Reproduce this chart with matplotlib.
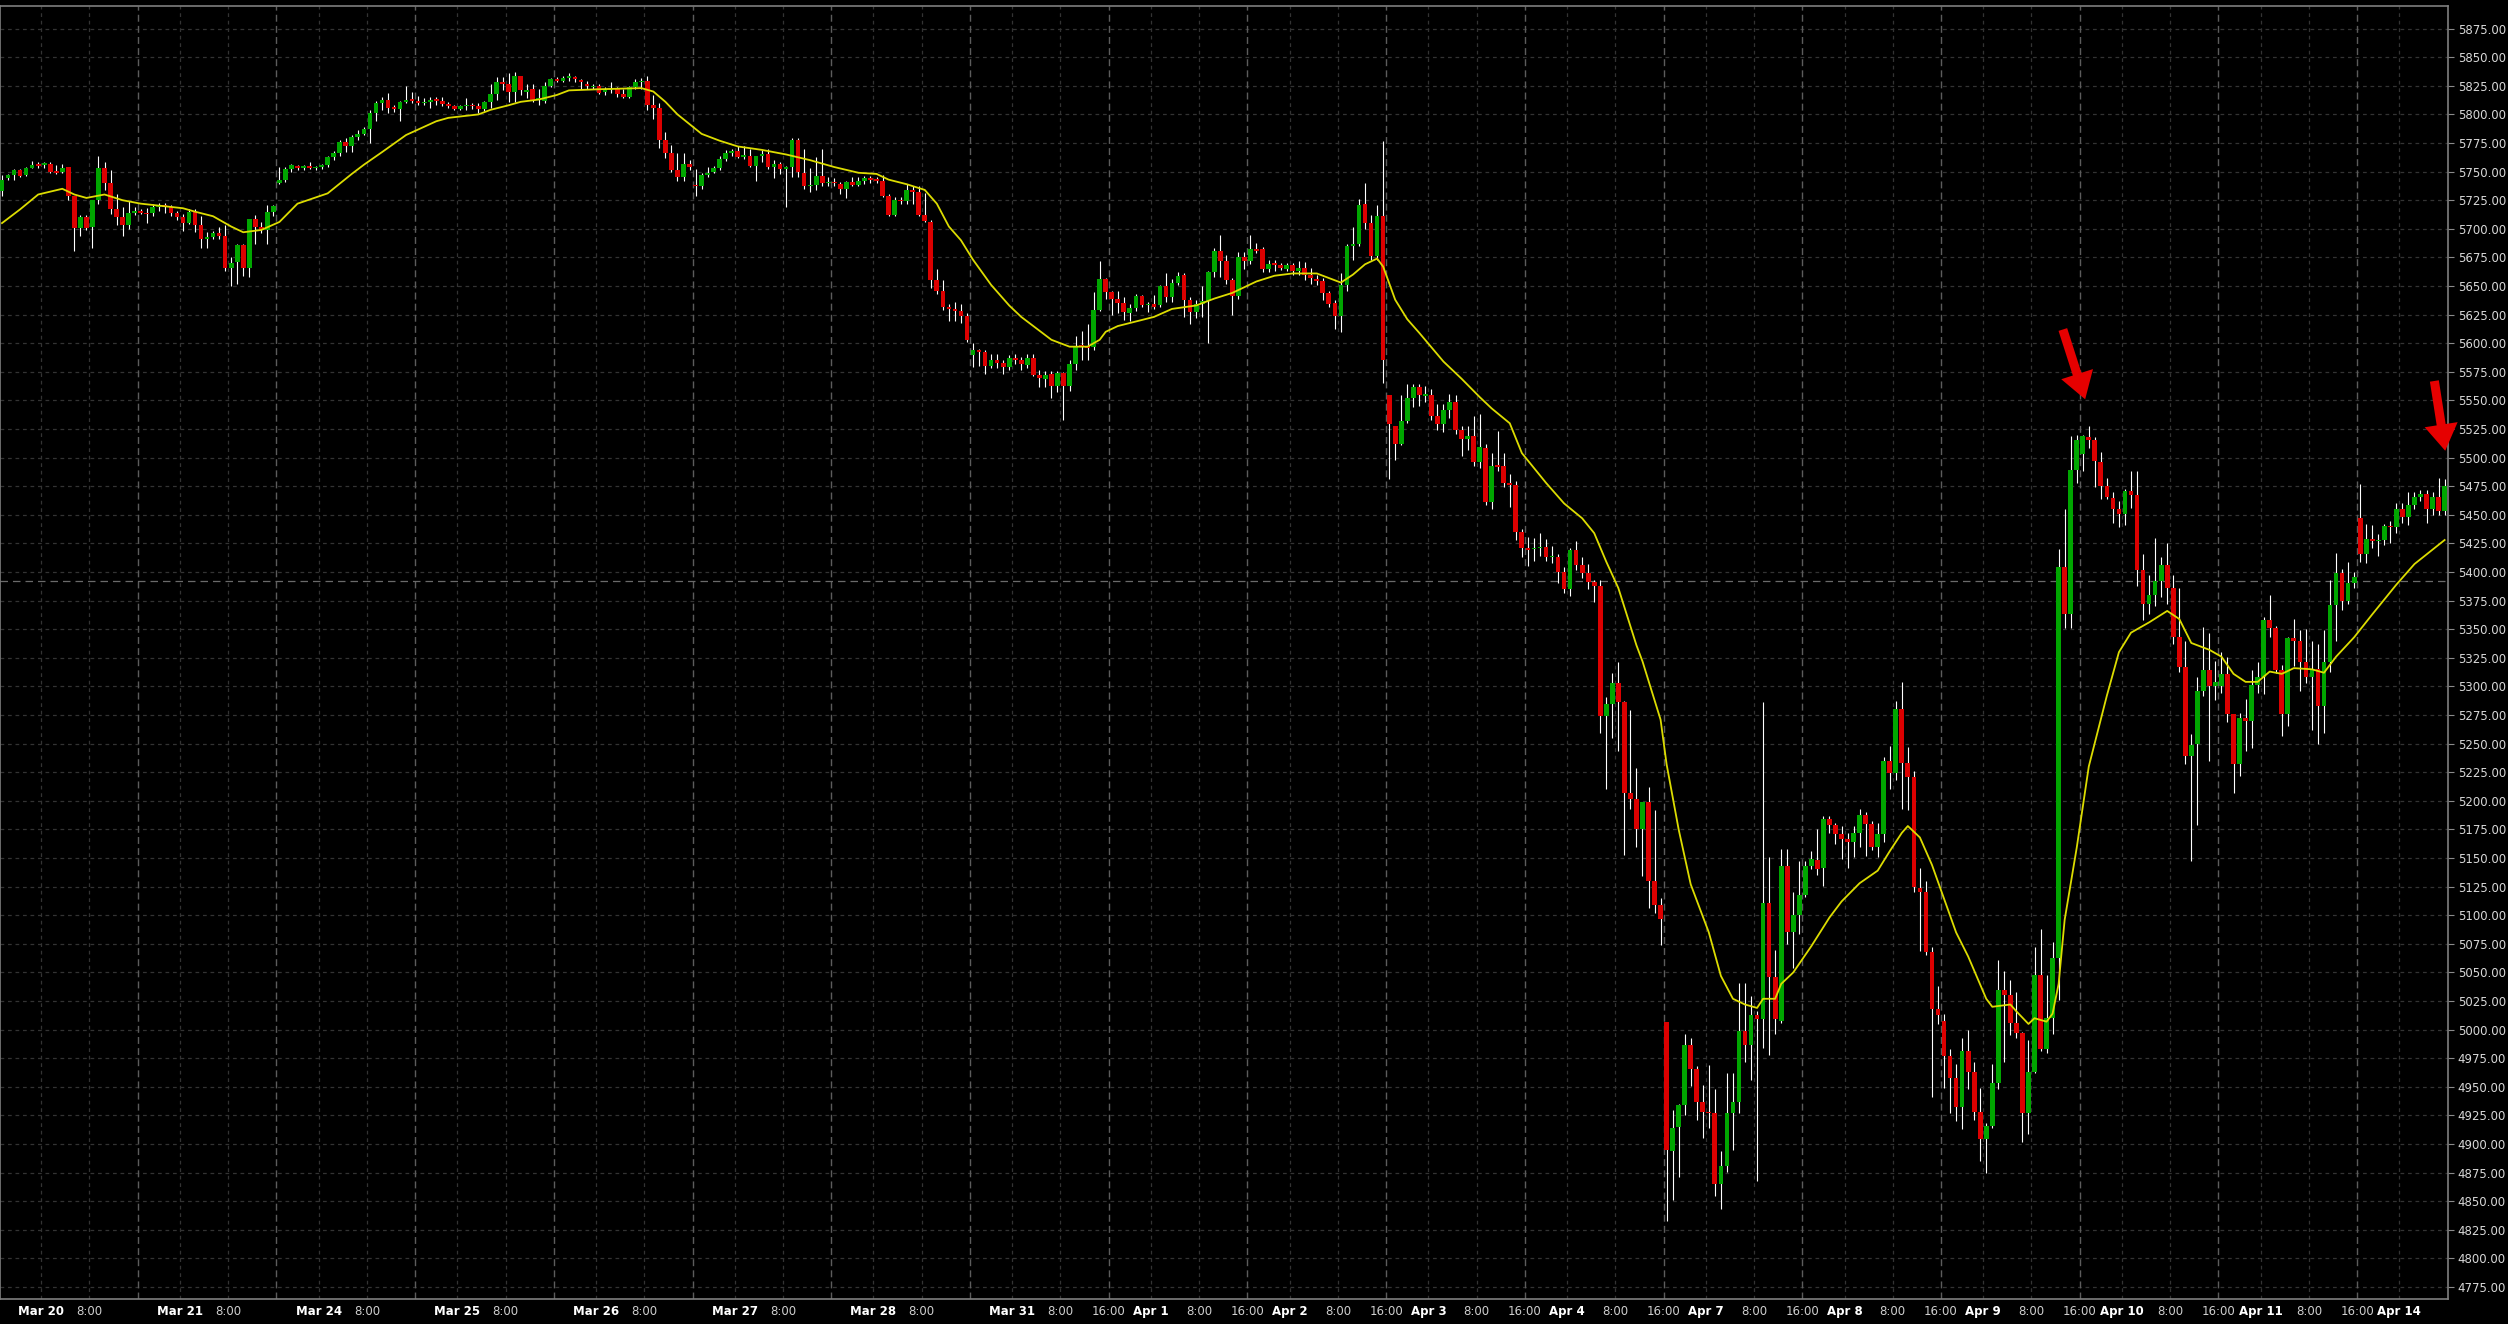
import matplotlib
matplotlib.use('Agg')
import matplotlib.pyplot as plt
import numpy as np

# hourly bars, from the late Mar 19 session to Apr 14 morning
opens = [
    5733, 5744, 5747, 5751, 5747, 5753, 5757, 5756, 5757, 5750,
    5750, 5754, 5729, 5701, 5710, 5702, 5725, 5753, 5740, 5717,
    5710, 5703, 5714, 5715, 5714, 5714, 5719, 5721, 5719, 5714,
    5710, 5705, 5715, 5703, 5691, 5693, 5696, 5694, 5666, 5671,
    5686, 5666, 5709, 5702, 5699, 5715, 5740, 5743, 5752, 5755,
    5753, 5755, 5753, 5754, 5756, 5763, 5766, 5776, 5772, 5780,
    5783, 5787, 5801, 5810, 5813, 5806, 5805, 5811, 5813, 5812,
    5810, 5811, 5813, 5812, 5809, 5807, 5805, 5807, 5808, 5807,
    5805, 5811, 5818, 5828, 5827, 5820, 5834, 5820, 5822, 5813,
    5812, 5825, 5831, 5829, 5832, 5833, 5830, 5827, 5824, 5825,
    5820, 5821, 5823, 5818, 5815, 5824, 5828, 5829, 5808, 5806,
    5778, 5766, 5751, 5745, 5757, 5738, 5737, 5747, 5750, 5753,
    5761, 5766, 5768, 5763, 5764, 5755, 5764, 5765, 5754, 5757,
    5752, 5754, 5778, 5749, 5737, 5738, 5746, 5740, 5741, 5739,
    5735, 5741, 5738, 5742, 5744, 5743, 5742, 5729, 5712, 5725,
    5724, 5734, 5732, 5712, 5706, 5655, 5646, 5632, 5630, 5628,
    5624, 5590, 5594, 5592, 5580, 5585, 5583, 5579, 5587, 5585,
    5581, 5587, 5572, 5569, 5573, 5563, 5574, 5563, 5582, 5598,
    5598, 5597, 5629, 5656, 5645, 5639, 5635, 5626, 5631, 5641,
    5633, 5634, 5633, 5650, 5640, 5653, 5660, 5638, 5627, 5634,
    5637, 5662, 5681, 5672, 5655, 5641, 5675, 5672, 5682, 5682,
    5665, 5670, 5668, 5665, 5668, 5663, 5666, 5660, 5656, 5654,
    5644, 5635, 5624, 5651, 5685, 5687, 5722, 5705, 5676, 5711,
    5555, 5528, 5512, 5532, 5552, 5562, 5554, 5555, 5536, 5529,
    5542, 5549, 5524, 5516, 5519, 5496, 5508, 5461, 5493, 5493,
    5478, 5476, 5435, 5421, 5420, 5421, 5422, 5413, 5413, 5400,
    5385, 5419, 5406, 5399, 5391, 5388, 5274, 5285, 5303, 5286,
    5207, 5202, 5175, 5199, 5130, 5109, 5007, 4894, 4915, 4934,
    4987, 4966, 4937, 4928, 4927, 4865, 4881, 4927, 4937, 4999,
    4987, 5013, 5009, 5111, 5046, 5008, 5143, 5085, 5100, 5118,
    5143, 5148, 5141, 5184, 5179, 5171, 5167, 5164, 5172, 5188,
    5180, 5160, 5171, 5235, 5224, 5280, 5233, 5221, 5124, 5120,
    5068, 5018, 5008, 4977, 4958, 4932, 4981, 4963, 4928, 4904,
    4916, 4953, 5035, 5030, 5006, 4997, 4927, 4963, 5048, 4983,
    5010, 5063, 5404, 5363, 5489, 5503, 5518, 5515, 5496, 5475,
    5465, 5455, 5451, 5471, 5467, 5402, 5372, 5380, 5392, 5406,
    5386, 5343, 5317, 5239, 5250, 5296, 5314, 5300, 5300, 5311,
    5276, 5232, 5272, 5270, 5301, 5308, 5358, 5351, 5314, 5276,
    5342, 5340, 5321, 5308, 5315, 5283, 5321, 5371, 5399, 5375,
    5390, 5447, 5416, 5429, 5427, 5428, 5440, 5439, 5455, 5448,
    5459, 5466, 5468, 5455, 5466, 5453,
]
highs = [
    5747, 5748, 5752, 5752, 5754, 5759, 5758, 5758, 5758, 5756,
    5757, 5754, 5729, 5712, 5712, 5725, 5764, 5758, 5751, 5730,
    5719, 5724, 5719, 5717, 5718, 5722, 5723, 5723, 5721, 5716,
    5713, 5717, 5717, 5711, 5697, 5698, 5702, 5703, 5675, 5687,
    5687, 5709, 5712, 5706, 5721, 5721, 5754, 5754, 5757, 5756,
    5756, 5758, 5755, 5757, 5764, 5768, 5778, 5779, 5782, 5786,
    5789, 5804, 5812, 5815, 5819, 5808, 5812, 5825, 5820, 5816,
    5814, 5815, 5815, 5815, 5811, 5808, 5808, 5814, 5810, 5810,
    5812, 5827, 5833, 5833, 5836, 5837, 5834, 5827, 5827, 5822,
    5828, 5832, 5833, 5834, 5836, 5834, 5831, 5829, 5827, 5827,
    5824, 5828, 5824, 5822, 5825, 5831, 5832, 5834, 5817, 5810,
    5785, 5773, 5766, 5766, 5760, 5752, 5749, 5754, 5755, 5764,
    5769, 5770, 5772, 5772, 5770, 5764, 5769, 5770, 5760, 5758,
    5755, 5779, 5779, 5770, 5753, 5763, 5770, 5745, 5744, 5741,
    5742, 5745, 5745, 5746, 5746, 5745, 5747, 5730, 5728, 5728,
    5739, 5737, 5737, 5731, 5708, 5665, 5655, 5634, 5636, 5634,
    5626, 5600, 5595, 5594, 5591, 5591, 5585, 5590, 5591, 5588,
    5591, 5591, 5577, 5576, 5576, 5576, 5575, 5585, 5606, 5611,
    5617, 5645, 5672, 5657, 5646, 5646, 5640, 5634, 5643, 5642,
    5636, 5642, 5651, 5661, 5656, 5662, 5661, 5640, 5638, 5650,
    5663, 5683, 5695, 5677, 5657, 5680, 5680, 5695, 5688, 5684,
    5673, 5673, 5670, 5670, 5670, 5672, 5671, 5666, 5660, 5657,
    5646, 5638, 5661, 5687, 5702, 5726, 5740, 5712, 5721, 5777,
    5555, 5528, 5555, 5564, 5564, 5564, 5563, 5560, 5547, 5547,
    5556, 5555, 5528, 5528, 5536, 5538, 5512, 5504, 5523, 5504,
    5486, 5480, 5438, 5431, 5430, 5434, 5429, 5423, 5416, 5404,
    5421, 5427, 5413, 5407, 5393, 5393, 5291, 5312, 5321, 5287,
    5279, 5229, 5199, 5212, 5192, 5115, 5007, 4930, 4935, 4996,
    4993, 4968, 4952, 4969, 4948, 4894, 4962, 4962, 5041, 5041,
    5029, 5016, 5286, 5151, 5070, 5158, 5158, 5120, 5147, 5147,
    5156, 5175, 5187, 5187, 5181, 5178, 5172, 5178, 5193, 5190,
    5182, 5181, 5238, 5248, 5287, 5304, 5247, 5226, 5141, 5130,
    5072, 5038, 5014, 4983, 4970, 4993, 5000, 4972, 4949, 4918,
    4970, 5061, 5051, 5043, 5033, 4998, 4991, 5072, 5088, 5048,
    5077, 5420, 5455, 5519, 5520, 5520, 5528, 5518, 5505, 5482,
    5470, 5462, 5473, 5488, 5488, 5416, 5397, 5430, 5413, 5425,
    5397, 5386, 5340, 5258, 5308, 5352, 5347, 5322, 5330, 5326,
    5276, 5277, 5289, 5314, 5321, 5361, 5380, 5353, 5319, 5343,
    5359, 5349, 5350, 5340, 5337, 5349, 5393, 5417, 5403, 5409,
    5400, 5477, 5442, 5441, 5433, 5442, 5445, 5460, 5460, 5470,
    5470, 5472, 5472, 5470, 5482, 5481,
]
lows = [
    5729, 5743, 5743, 5745, 5746, 5753, 5753, 5753, 5749, 5748,
    5749, 5725, 5681, 5694, 5699, 5683, 5722, 5734, 5713, 5703,
    5694, 5700, 5712, 5713, 5705, 5711, 5716, 5714, 5711, 5708,
    5698, 5704, 5697, 5683, 5683, 5691, 5691, 5663, 5650, 5652,
    5659, 5658, 5687, 5696, 5687, 5711, 5739, 5741, 5750, 5751,
    5751, 5752, 5751, 5752, 5754, 5760, 5764, 5767, 5767, 5778,
    5782, 5775, 5794, 5804, 5801, 5802, 5794, 5810, 5810, 5808,
    5808, 5806, 5808, 5807, 5806, 5804, 5804, 5804, 5805, 5801,
    5803, 5806, 5813, 5821, 5811, 5811, 5817, 5814, 5811, 5808,
    5810, 5824, 5828, 5828, 5829, 5828, 5822, 5822, 5822, 5818,
    5817, 5819, 5815, 5814, 5814, 5822, 5822, 5804, 5796, 5771,
    5762, 5750, 5742, 5742, 5751, 5729, 5735, 5745, 5749, 5751,
    5759, 5764, 5762, 5761, 5754, 5742, 5758, 5752, 5744, 5748,
    5719, 5745, 5745, 5735, 5732, 5734, 5737, 5737, 5737, 5730,
    5727, 5737, 5737, 5739, 5740, 5740, 5728, 5711, 5711, 5722,
    5722, 5722, 5711, 5706, 5648, 5643, 5629, 5619, 5619, 5618,
    5601, 5579, 5580, 5573, 5578, 5578, 5573, 5577, 5582, 5577,
    5578, 5571, 5562, 5562, 5552, 5557, 5533, 5558, 5577, 5585,
    5585, 5594, 5628, 5639, 5625, 5626, 5620, 5619, 5628, 5632,
    5627, 5630, 5632, 5636, 5636, 5651, 5623, 5617, 5622, 5623,
    5600, 5658, 5658, 5652, 5625, 5639, 5665, 5669, 5679, 5662,
    5662, 5663, 5664, 5663, 5660, 5660, 5655, 5652, 5651, 5638,
    5632, 5612, 5610, 5646, 5673, 5685, 5700, 5673, 5673, 5565,
    5481, 5498, 5511, 5530, 5544, 5545, 5549, 5533, 5524, 5522,
    5535, 5521, 5501, 5507, 5493, 5491, 5459, 5455, 5488, 5474,
    5457, 5428, 5413, 5405, 5410, 5414, 5410, 5408, 5390, 5382,
    5379, 5402, 5395, 5385, 5374, 5259, 5210, 5255, 5244, 5153,
    5193, 5160, 5134, 5106, 5102, 5074, 4833, 4851, 4871, 4925,
    4951, 4921, 4905, 4914, 4855, 4843, 4876, 4895, 4927, 4972,
    4956, 4868, 4984, 4978, 4996, 5006, 5075, 5054, 5084, 5116,
    5140, 5135, 5126, 5172, 5162, 5149, 5141, 5151, 5160, 5152,
    5157, 5151, 5164, 5210, 5218, 5193, 5192, 5120, 5069, 5065,
    4941, 5005, 4949, 4927, 4920, 4913, 4948, 4921, 4885, 4875,
    4914, 4948, 4972, 4995, 4993, 4902, 4909, 4962, 4981, 4980,
    4996, 5026, 5351, 5351, 5478, 5488, 5508, 5474, 5464, 5464,
    5443, 5439, 5441, 5456, 5388, 5358, 5363, 5370, 5378, 5372,
    5337, 5313, 5232, 5147, 5179, 5292, 5235, 5288, 5294, 5269,
    5207, 5222, 5244, 5246, 5294, 5293, 5343, 5312, 5257, 5265,
    5318, 5296, 5303, 5262, 5250, 5259, 5313, 5340, 5367, 5372,
    5386, 5409, 5408, 5421, 5414, 5424, 5425, 5434, 5443, 5441,
    5455, 5462, 5443, 5450, 5450, 5450,
]
closes = [
    5743, 5747, 5751, 5746, 5753, 5756, 5755, 5757, 5750, 5749,
    5753, 5729, 5701, 5710, 5701, 5725, 5753, 5740, 5717, 5710,
    5703, 5714, 5715, 5714, 5713, 5719, 5721, 5719, 5714, 5710,
    5705, 5715, 5703, 5691, 5693, 5696, 5694, 5666, 5670, 5686,
    5666, 5709, 5702, 5699, 5715, 5720, 5743, 5752, 5756, 5753,
    5755, 5753, 5754, 5756, 5763, 5766, 5776, 5772, 5780, 5783,
    5787, 5801, 5810, 5813, 5806, 5805, 5811, 5813, 5812, 5810,
    5811, 5813, 5812, 5809, 5807, 5805, 5807, 5808, 5807, 5805,
    5811, 5818, 5828, 5827, 5820, 5834, 5821, 5821, 5813, 5814,
    5825, 5831, 5829, 5832, 5833, 5831, 5828, 5825, 5825, 5819,
    5821, 5822, 5818, 5815, 5824, 5828, 5829, 5808, 5806, 5778,
    5766, 5751, 5745, 5757, 5754, 5737, 5747, 5749, 5753, 5761,
    5766, 5768, 5763, 5764, 5755, 5764, 5765, 5754, 5757, 5752,
    5754, 5778, 5750, 5737, 5738, 5746, 5740, 5741, 5740, 5735,
    5741, 5738, 5742, 5744, 5743, 5742, 5729, 5712, 5725, 5724,
    5734, 5732, 5712, 5707, 5655, 5646, 5632, 5630, 5628, 5624,
    5603, 5594, 5592, 5580, 5585, 5583, 5579, 5587, 5585, 5582,
    5587, 5572, 5570, 5572, 5563, 5574, 5563, 5582, 5598, 5597,
    5596, 5629, 5656, 5645, 5639, 5635, 5627, 5631, 5641, 5633,
    5634, 5632, 5650, 5640, 5653, 5659, 5638, 5627, 5634, 5637,
    5662, 5681, 5672, 5655, 5641, 5675, 5672, 5682, 5681, 5665,
    5669, 5668, 5666, 5668, 5663, 5666, 5660, 5657, 5654, 5644,
    5634, 5624, 5651, 5685, 5687, 5721, 5705, 5676, 5711, 5585,
    5529, 5512, 5532, 5552, 5562, 5555, 5555, 5536, 5529, 5542,
    5549, 5524, 5516, 5519, 5496, 5509, 5461, 5493, 5492, 5478,
    5476, 5435, 5421, 5419, 5421, 5422, 5413, 5414, 5400, 5385,
    5419, 5406, 5399, 5391, 5388, 5274, 5285, 5303, 5286, 5207,
    5202, 5175, 5199, 5130, 5109, 5097, 4895, 4914, 4934, 4987,
    4966, 4937, 4928, 4927, 4865, 4881, 4927, 4937, 4999, 4987,
    5013, 5009, 5111, 5046, 5009, 5143, 5085, 5100, 5118, 5143,
    5149, 5140, 5184, 5179, 5171, 5167, 5164, 5172, 5188, 5180,
    5160, 5171, 5235, 5224, 5280, 5233, 5221, 5125, 5120, 5068,
    5018, 5013, 4977, 4958, 4932, 4981, 4963, 4928, 4904, 4916,
    4953, 5035, 5030, 5006, 4997, 4927, 4963, 5048, 4983, 5010,
    5063, 5404, 5363, 5489, 5515, 5519, 5515, 5497, 5475, 5466,
    5455, 5451, 5471, 5467, 5402, 5372, 5380, 5392, 5406, 5386,
    5343, 5317, 5239, 5249, 5296, 5314, 5300, 5304, 5311, 5276,
    5232, 5272, 5270, 5301, 5308, 5358, 5351, 5314, 5276, 5342,
    5340, 5321, 5308, 5315, 5283, 5321, 5371, 5399, 5375, 5390,
    5396, 5416, 5429, 5427, 5428, 5440, 5439, 5455, 5448, 5459,
    5466, 5468, 5455, 5466, 5453, 5475,
]

# moving average (yellow line), read at selected bars
ma_bar = [0, 3, 6, 10, 12, 14, 17, 20, 23, 30, 32, 35, 38, 40, 43, 46, 49, 54, 58, 60,
          63, 67, 72, 74, 79, 81, 84, 86, 89, 92, 94, 99, 106, 108, 110, 112, 116, 119, 122, 126,
          130, 134, 138, 142, 145, 147, 150, 153, 155, 157, 159, 161, 164, 167, 169, 172, 174, 177, 180, 182,
          183, 185, 188, 191, 194, 198, 201, 204, 208, 211, 214, 218, 220, 222, 224, 226, 228, 229, 231, 233,
          235, 239, 242, 245, 247, 250, 252, 256, 259, 262, 264, 266, 268, 271, 272, 275, 276, 278, 280, 283,
          285, 287, 289, 291, 292, 294, 295, 297, 300, 303, 305, 308, 311, 313, 315, 316, 318, 320, 324, 326,
          329, 330, 333, 334, 336, 337, 339, 340, 341, 342, 344, 346, 349, 351, 353, 356, 359, 361, 363, 366,
          368, 370, 372, 374, 376, 378, 380, 383, 385, 387, 390, 393, 397, 400, 405]
ma_val = [5705, 5717, 5730, 5735, 5730, 5727, 5730, 5725, 5722, 5718, 5715, 5711, 5702, 5697, 5699, 5706, 5722, 5731, 5748, 5756,
          5767, 5782, 5794, 5797, 5800, 5804, 5808, 5811, 5813, 5817, 5821, 5822, 5823, 5820, 5811, 5800, 5783, 5777, 5772, 5769,
          5765, 5760, 5754, 5749, 5748, 5743, 5739, 5734, 5722, 5702, 5690, 5673, 5651, 5633, 5623, 5611, 5603, 5597, 5597, 5603,
          5610, 5615, 5619, 5623, 5630, 5633, 5639, 5644, 5654, 5659, 5661, 5661, 5657, 5653, 5660, 5669, 5674, 5667, 5638, 5621,
          5609, 5584, 5569, 5553, 5543, 5530, 5504, 5478, 5460, 5447, 5434, 5409, 5386, 5336, 5322, 5271, 5232, 5175, 5127, 5085,
          5047, 5027, 5022, 5019, 5027, 5027, 5040, 5050, 5073, 5098, 5112, 5128, 5139, 5156, 5172, 5178, 5168, 5144, 5085, 5064,
          5027, 5020, 5022, 5016, 5005, 5010, 5007, 5014, 5040, 5096, 5159, 5230, 5292, 5330, 5347, 5356, 5366, 5359, 5338, 5332,
          5326, 5311, 5304, 5304, 5313, 5311, 5316, 5315, 5312, 5326, 5343, 5363, 5389, 5407, 5428]

day_labels = ['Mar 20', 'Mar 21', 'Mar 24', 'Mar 25', 'Mar 26', 'Mar 27', 'Mar 28', 'Mar 31', 'Apr 1',
              'Apr 2', 'Apr 3', 'Apr 4', 'Apr 7', 'Apr 8', 'Apr 9', 'Apr 10', 'Apr 11', 'Apr 14']
first_day_bar = 7      # bar index of Mar 20 0:00
bars_per_day = 23
late_label_from = 7    # "16:00" is only labelled from Mar 31 on

price_ticks = np.arange(4775, 5876, 25)
crosshair_price = 5392

# the two red arrows (tail -> tip), in bar / price units
arrows = [((341.7, 5612), (345.4, 5551)), ((403.3, 5567), (405.1, 5506))]

bg = '#000000'
up_col = '#00a600'
down_col = '#dc0000'

fig = plt.figure(figsize=(25.08, 13.24), dpi=100, facecolor=bg)
ax = fig.add_axes([0.0, 0.0189, 0.9761, 0.9766])
ax.set_facecolor(bg)

o = np.array(opens, float)
h = np.array(highs, float)
l = np.array(lows, float)
c = np.array(closes, float)
x = np.arange(len(c))
up = c >= o
cols = np.where(up, up_col, down_col)
body_lo = np.minimum(o, c)
body_h = np.maximum(np.abs(c - o), 1.2)

xmin, xmax = -0.33, 405.57

# vertical grid: 0:00 and 8:00 plain, 16:00 (session start) brighter
for k in range(-1, len(day_labels)):
    d = first_day_bar + k * bars_per_day
    for pos, bright in ((d - 0.5, False), (d + 7.5, False), (d + 15.5, True)):
        if xmin < pos < xmax:
            if bright:
                ax.axvline(pos, color='#5c5c5c', lw=1.0, ls=(0, (5, 3)), zorder=1)
            else:
                ax.axvline(pos, color='#333333', lw=0.9, ls=(0, (3, 3)), zorder=1)

ax.set_yticks(price_ticks)
ax.yaxis.grid(True, color='#333333', lw=0.9, ls=(0, (3, 3)), zorder=1)
ax.set_axisbelow(True)
ax.axhline(crosshair_price, color='#6a6a6a', lw=0.9, ls=(0, (6, 4)), zorder=1.5)

ax.vlines(x, l, h, color='white', lw=0.8, zorder=2)
ax.bar(x, body_h, bottom=body_lo, width=0.78, color=cols, linewidth=0, zorder=3)

ax.plot(ma_bar, ma_val, color='#dcdc00', lw=1.3, zorder=4)

for tail, tip in arrows:
    ax.annotate('', xy=tip, xytext=tail, annotation_clip=False, zorder=6,
                arrowprops=dict(arrowstyle='simple,head_length=1.9,head_width=2.4,tail_width=0.65',
                                fc='#e60000', ec='none', mutation_scale=10,
                                shrinkA=0, shrinkB=0))

ax.set_xlim(xmin, xmax)
ax.set_ylim(4764.6, 5894.8)

# x labels (none too close to the right edge)
tick_pos, tick_txt, tick_bold = [], [], []
for k, name in enumerate(day_labels):
    d = first_day_bar + k * bars_per_day
    items = [(d - 0.5, name, True), (d + 7.5, '8:00', False)]
    if k >= late_label_from:
        items.append((d + 15.5, '16:00', False))
    for pos, txt, bold in items:
        if xmin < pos < xmax - 2:
            tick_pos.append(pos)
            tick_txt.append(txt)
            tick_bold.append(bold)
ax.set_xticks(tick_pos)
ax.set_xticklabels(tick_txt)
ax.tick_params(axis='x', length=0, pad=4, labelsize=8.5)
for lab, bold in zip(ax.get_xticklabels(), tick_bold):
    lab.set_fontweight('bold' if bold else 'normal')
    lab.set_color('white' if bold else '#cfcfcf')

ax.yaxis.tick_right()
ax.set_yticklabels([f'{v:.2f}' for v in price_ticks])
ax.tick_params(axis='y', direction='out', length=4, width=0.8, color='#8a8a8a',
               labelcolor='#d8d8d8', labelsize=8.5, pad=3)

for s in ax.spines.values():
    s.set_color('#7f7f7f')
    s.set_linewidth(1.2)

fig.savefig('out.png', dpi=100, facecolor=bg)
